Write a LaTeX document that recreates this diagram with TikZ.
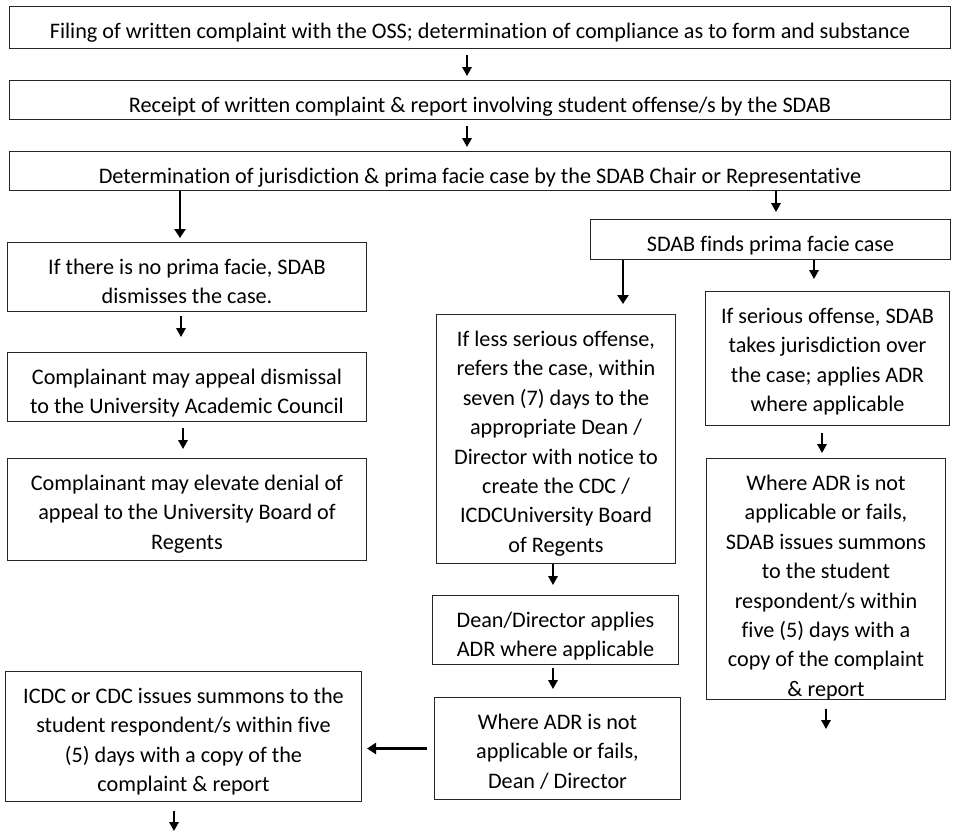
\documentclass[tikz,border=0pt]{standalone}
\usepackage{fontspec}
\setmainfont{Carlito}[Ligatures=NoCommon]
\usetikzlibrary{arrows.meta}
\newcommand{\mkbox}[6]{%
  \node[box, minimum width=#4pt, minimum height=#5pt] (#1) at (#2,#3) {};
  \begin{scope}
    \clip (#1.north west) rectangle (#1.south east);
    \node[txt] (t#1) at ([yshift=-32.5pt]#1.north) {\begin{tabular}[t]{@{}c@{}}#6\end{tabular}};
  \end{scope}}
\begin{document}
\begin{tikzpicture}[x=1pt,y=-1pt,
  box/.style={draw=black!85, line width=1pt, rectangle, inner sep=0pt, anchor=north west},
  txt/.style={anchor=base, inner sep=0pt, text=black, font=\fontsize{22.2}{29.4}\selectfont},
  arr/.style={draw=black, line width=1.7pt, -{Triangle[length=9pt,width=9.5pt]}},
  thickarr/.style={draw=black, line width=2.7pt, -{Triangle[length=9pt,width=11pt]}}]
\useasboundingbox[fill=white] (0,0) rectangle (954,835);

\mkbox{b1}{9}{5.5}{941}{42.5}{Filing of written complaint with the OSS; determination of compliance as to form and substance}
\mkbox{b2}{9}{80}{941}{38.5}{Receipt of written complaint \& report involving student offense/s by the SDAB}
\mkbox{b3}{9}{151}{941}{39}{Determination of jurisdiction \& prima facie case by the SDAB Chair or Representative}
\mkbox{b4}{7}{242}{359}{69}{If there is no prima facie, SDAB\\ dismisses the case.}
\mkbox{b5}{7}{352}{359}{69}{Complainant may appeal dismissal\\ to the University Academic Council}
\mkbox{b6}{7}{458}{359}{102}{Complainant may elevate denial of\\ appeal to the University Board of\\ Regents}
\mkbox{b7}{590}{219}{360}{40}{SDAB finds prima facie case}
\mkbox{b8}{436}{314}{239}{249}{If less serious offense,\\ refers the case, within\\ seven (7) days to the\\ appropriate Dean /\\ Director with notice to\\ create the CDC /\\ ICDCUniversity Board\\ of Regents}
\mkbox{b9}{705}{291}{244}{134}{If serious offense, SDAB\\ takes jurisdiction over\\ the case; applies ADR\\ where applicable}
\mkbox{b10}{706}{458}{239}{241}{Where ADR is not\\ applicable or fails,\\ SDAB issues summons\\ to the student\\ respondent/s within\\ five (5) days with a\\ copy of the complaint\\ \& report}
\mkbox{b11}{432}{595}{246}{69}{Dean/Director applies\\ ADR where applicable}
\mkbox{b12}{434}{697}{246}{102}{Where ADR is not\\ applicable or fails,\\ Dean / Director}
\mkbox{b13}{5}{671}{356}{130}{ICDC or CDC issues summons to the\\ student respondent/s within five\\ (5) days with a copy of the\\ complaint \& report}

% x positions of the vertical connectors
\coordinate (xa1) at (467,0);
\coordinate (xa3) at (180,0);
\coordinate (xa4) at (776,0);
\coordinate (xa5) at (181,0);
\coordinate (xa6) at (623,0);
\coordinate (xa7) at (814,0);
\coordinate (xa8) at (183,0);
\coordinate (xa9) at (822,0);
\coordinate (xa10) at (553,0);
\coordinate (xa11) at (826,0);
\coordinate (xa14) at (174,0);
\coordinate (e10) at (826,729);
\coordinate (e13) at (174,831);

\draw[arr, shorten <=6pt, shorten >=4pt] (xa1 |- b1.south) -- (xa1 |- b2.north);
\draw[arr, shorten <=6.5pt, shorten >=4pt] (xa1 |- b2.south) -- (xa1 |- b3.north);
\draw[thickarr, shorten >=4pt] (xa3 |- b3.south) -- (xa3 |- b4.north);
\draw[arr, shorten >=7pt] (xa4 |- b3.south) -- (xa4 |- b7.north);
\draw[arr, shorten <=4pt, shorten >=15pt] (xa5 |- b4.south) -- (xa5 |- b5.north);
\draw[thickarr, shorten >=10pt] (xa6 |- b7.south) -- (xa6 |- b8.north);
\draw[arr, shorten >=12pt] (xa7 |- b7.south) -- (xa7 |- b9.north);
\draw[arr, shorten <=6pt, shorten >=9pt] (xa8 |- b5.south) -- (xa8 |- b6.north);
\draw[arr, shorten <=7pt, shorten >=5pt] (xa9 |- b9.south) -- (xa9 |- b10.north);
\draw[arr, shorten >=10pt] (xa10 |- b8.south) -- (xa10 |- b11.north);
\draw[arr, shorten <=9pt] (xa11 |- b10.south) -- (e10);
\draw[arr, shorten <=3pt, shorten >=8pt] (xa10 |- b11.south) -- (xa10 |- b12.north);
\draw[thickarr, shorten <=7pt, shorten >=5pt] (b12.west) -- (b13.east |- b12.west);
\draw[arr, shorten <=9pt] (xa14 |- b13.south) -- (e13);
\end{tikzpicture}
\end{document}
